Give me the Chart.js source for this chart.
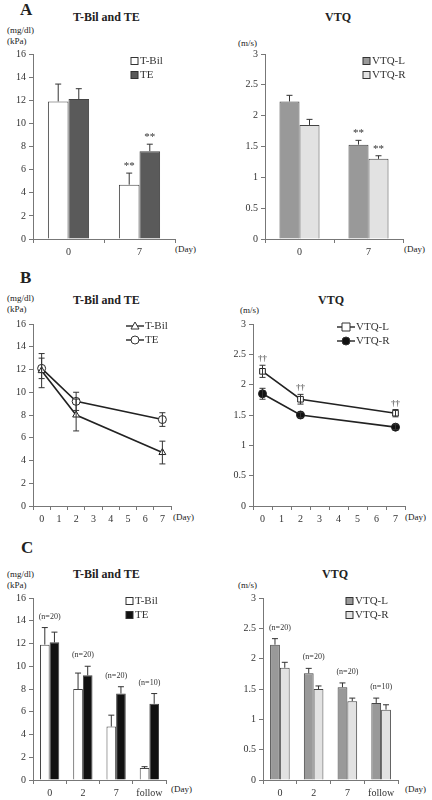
<!DOCTYPE html>
<html>
<head>
<meta charset="utf-8">
<script src="https://cdn.jsdelivr.net/npm/chart.js@4/dist/chart.umd.min.js"></script>
<style>
body { margin:0; background:#fff; width:432px; height:800px; position:relative; overflow:hidden; font-family:"Liberation Serif", serif; color:#222; }
canvas { position:absolute; }
.t { position:absolute; font-size:12px; white-space:nowrap; }
.b { font-weight:bold; }
.L { font-weight:bold; font-size:17px; }
.u { font-size:9px; line-height:11px; }
</style>
</head>
<body>
<div class="t L" style="left:20px;top:0px">A</div>
<div class="t L" style="left:20px;top:268px">B</div>
<div class="t L" style="left:21px;top:538px">C</div>

<div class="t b" style="left:73px;top:10px">T-Bil and TE</div>
<div class="t b" style="left:325px;top:10px">VTQ</div>
<div class="t b" style="left:73px;top:293px">T-Bil and TE</div>
<div class="t b" style="left:318px;top:293px">VTQ</div>
<div class="t b" style="left:73px;top:567px">T-Bil and TE</div>
<div class="t b" style="left:322px;top:567px">VTQ</div>

<div class="t u" style="left:7px;top:25px">(mg/dl)<br>(kPa)</div>
<div class="t u" style="left:238px;top:38px">(m/s)</div>
<div class="t u" style="left:7px;top:293px">(mg/dl)<br>(kPa)</div>
<div class="t u" style="left:240px;top:305px">(m/s)</div>
<div class="t u" style="left:7px;top:569px">(mg/dl)<br>(kPa)</div>
<div class="t u" style="left:238px;top:580px">(m/s)</div>

<div class="t u" style="left:175px;top:244px">(Day)</div>
<div class="t u" style="left:404px;top:244px">(Day)</div>
<div class="t u" style="left:173px;top:512px">(Day)</div>
<div class="t u" style="left:405px;top:512px">(Day)</div>
<div class="t u" style="left:171px;top:784px">(Day)</div>
<div class="t u" style="left:405px;top:784px">(Day)</div>

<canvas id="aL"></canvas><canvas id="aR"></canvas>
<canvas id="bL"></canvas><canvas id="bR"></canvas>
<canvas id="cL"></canvas><canvas id="cR"></canvas>
<script>
// ---- data ----
const daysA = ['0', '7'];
const tbilA = [11.9, 4.7], tbilAErr = [1.5, 1.0];
const teA = [12.1, 7.6], teAErr = [0.9, 0.6];
const starsA = ['', '**'];
const vtqLA = [2.23, 1.53], vtqLAErr = [0.10, 0.07];
const vtqRA = [1.85, 1.30], vtqRAErr = [0.09, 0.05];

const daysB = ['0', '1', '2', '3', '4', '5', '6', '7'];
const ptsB = ['0', '2', '7'];
const tbilB = [11.9, 8.0, 4.7], tbilBErr = [1.5, 1.4, 1.0];
const teB = [12.1, 9.2, 7.6], teBErr = [0.9, 0.8, 0.6];
const vtqLB = [2.22, 1.76, 1.53], vtqLBErr = [0.10, 0.08, 0.06];
const vtqRB = [1.85, 1.50, 1.30], vtqRBErr = [0.09, 0.04, 0.04];
const daggersB = ['††', '††', '††'];

const daysC = ['0', '2', '7', 'follow'];
const nC = ['(n=20)', '(n=20)', '(n=20)', '(n=10)'];
const tbilC = [11.9, 8.0, 4.7, 1.05], tbilCErr = [1.5, 1.4, 1.0, 0.12];
const teC = [12.1, 9.2, 7.6, 6.7], teCErr = [0.9, 0.8, 0.6, 0.9];
const vtqLC = [2.23, 1.76, 1.53, 1.27], vtqLCErr = [0.10, 0.08, 0.07, 0.08];
const vtqRC = [1.85, 1.50, 1.30, 1.16], vtqRCErr = [0.09, 0.05, 0.05, 0.08];

const FONT = '"Liberation Serif", serif';
const INK = '#333';

// error bars, marks above bars, group labels, legend
const extras = {
    id: 'extras',
    afterDatasetsDraw(chart, args, opts) {
        const ctx = chart.ctx, y = chart.scales.y;
        ctx.save();
        ctx.strokeStyle = INK; ctx.fillStyle = INK; ctx.lineWidth = 1;
        ctx.font = '10px ' + FONT; ctx.textAlign = 'center';
        const tops = [];
        chart.data.datasets.forEach((ds, di) => {
            const meta = chart.getDatasetMeta(di);
            meta.data.forEach((el, i) => {
                const v = chart.data.datasets[di].data[i];
                const val = typeof v === 'object' ? v.y : v;
                const e = ds.err[i];
                const yt = y.getPixelForValue(val + e), yb = ds.both ? y.getPixelForValue(val - e) : el.y;
                ctx.beginPath();
                ctx.moveTo(el.x, yt); ctx.lineTo(el.x, yb);
                ctx.moveTo(el.x - 3, yt); ctx.lineTo(el.x + 3, yt);
                if (ds.both) { ctx.moveTo(el.x - 3, yb); ctx.lineTo(el.x + 3, yb); }
                ctx.stroke();
                if (ds.marks && ds.marks[i]) {
                    ctx.font = (ds.marks[i] === '**' ? '11px ' : '9px ') + FONT;
                    ctx.fillText(ds.marks[i], el.x, yt - 4);
                }
                tops[i] = Math.min(tops[i] ?? 1e9, yt);
                tops['x' + i] = (tops['x' + i] || 0) + el.x / chart.data.datasets.length;
            });
        });
        if (opts.groups) {
            ctx.font = '8px ' + FONT;
            opts.groups.forEach((g, i) => ctx.fillText(g, tops['x' + i], tops[i] - 9));
        }
        if (opts.legend) {
            const lg = opts.legend;
            ctx.font = '11px ' + FONT; ctx.textAlign = 'left'; ctx.textBaseline = 'middle';
            chart.data.datasets.forEach((ds, di) => {
                const ly = lg.y + di * 14;
                if (lg.line) {
                    ctx.beginPath(); ctx.lineWidth = 1.5;
                    ctx.moveTo(lg.x, ly); ctx.lineTo(lg.x + 18, ly); ctx.stroke();
                    ctx.lineWidth = 1;
                    ctx.fillStyle = ds.pointBackgroundColor;
                    ctx.beginPath();
                    const cx = lg.x + 9;
                    if (ds.pointStyle === 'triangle') { ctx.moveTo(cx, ly - 4); ctx.lineTo(cx + 4, ly + 3); ctx.lineTo(cx - 4, ly + 3); ctx.closePath(); }
                    else if (ds.pointStyle === 'rect') ctx.rect(cx - 4, ly - 4, 8, 8);
                    else ctx.arc(cx, ly, 4, 0, Math.PI * 2);
                    ctx.fill(); ctx.stroke();
                    ctx.fillStyle = INK;
                    ctx.fillText(ds.label, lg.x + 19, ly);
                } else {
                    ctx.fillStyle = ds.backgroundColor;
                    ctx.fillRect(lg.x, ly - 3.5, 7, 7);
                    ctx.strokeRect(lg.x, ly - 3.5, 7, 7);
                    ctx.fillStyle = INK;
                    ctx.fillText(ds.label, lg.x + 9, ly);
                }
            });
        }
        ctx.restore();
    }
};

// page-coordinate panel: canvas box + wanted chart area
function mk(id, box, area, type, labels, datasets, yMax, yStep, opts) {
    const cv = document.getElementById(id);
    cv.width = box.w; cv.height = box.h;
    cv.style.left = box.x + 'px'; cv.style.top = box.y + 'px';
    const YW = 28, XH = 20;
    const leg = opts.legend ? Object.assign({}, opts.legend, { x: opts.legend.x - box.x, y: opts.legend.y - box.y }) : null;
    new Chart(cv, {
        type: type,
        data: { labels: labels, datasets: datasets },
        options: {
            responsive: false, animation: false,
            layout: { padding: { left: area.l - box.x - YW, top: area.t - box.y, right: box.x + box.w - area.r, bottom: box.y + box.h - area.b - XH } },
            plugins: { legend: { display: false }, tooltip: { enabled: false }, extras: { legend: leg, groups: opts.groups } },
            scales: {
                x: {
                    offset: true,
                    afterFit: s => { s.height = XH; },
                    grid: { offset: true, drawOnChartArea: false, tickLength: 4, color: '#777' },
                    border: { color: '#777' },
                    ticks: { color: INK, font: { family: FONT, size: 10 }, maxRotation: 0, autoSkip: false }
                },
                y: {
                    min: 0, max: yMax,
                    afterFit: s => { s.width = YW; },
                    grid: { drawOnChartArea: false, tickLength: 4, color: '#777' },
                    border: { color: '#777' },
                    ticks: { stepSize: yStep, color: INK, font: { family: FONT, size: 10 }, padding: 3,
                             callback: v => String(v) }
                }
            }
        },
        plugins: [extras]
    });
}

function bar(label, data, err, color, marks) {
    return { label, data, err, marks, backgroundColor: color, borderColor: '#444', borderWidth: 1,
             categoryPercentage: 0.58, barPercentage: 1.0 };
}
function line(label, data, err, style, fill, marks) {
    return { label, data: ptsB.map((d, i) => ({ x: d, y: data[i] })), err, marks, both: true,
             borderColor: '#222', borderWidth: 1.6, pointStyle: style, pointRadius: 4,
             pointBackgroundColor: fill, pointBorderColor: '#222', pointBorderWidth: 1 };
}

// A
mk('aL', { x: 0, y: 0, w: 216, h: 265 }, { l: 33, t: 54, r: 175, b: 239 }, 'bar', daysA,
   [bar('T-Bil', tbilA, tbilAErr, '#ffffff', starsA), bar('TE', teA, teAErr, '#5a5a5a', starsA)], 16, 2,
   { legend: { x: 131, y: 61 } });
mk('aR', { x: 216, y: 0, w: 216, h: 265 }, { l: 265, t: 54, r: 403, b: 239 }, 'bar', daysA,
   [bar('VTQ-L', vtqLA, vtqLAErr, '#999999', starsA), bar('VTQ-R', vtqRA, vtqRAErr, '#e2e2e2', starsA)], 3, 0.5,
   { legend: { x: 363, y: 61 } });
// B
mk('bL', { x: 0, y: 265, w: 216, h: 265 }, { l: 33, t: 324, r: 171, b: 506 }, 'line', daysB,
   [line('T-Bil', tbilB, tbilBErr, 'triangle', '#fff'), line('TE', teB, teBErr, 'circle', '#fff')], 16, 2,
   { legend: { x: 126, y: 326, line: true } });
mk('bR', { x: 216, y: 265, w: 216, h: 265 }, { l: 253, t: 324, r: 405, b: 506 }, 'line', daysB,
   [line('VTQ-L', vtqLB, vtqLBErr, 'rect', '#fff', daggersB), line('VTQ-R', vtqRB, vtqRBErr, 'circle', '#111')], 3, 0.5,
   { legend: { x: 337, y: 327, line: true } });
// C
mk('cL', { x: 0, y: 530, w: 216, h: 270 }, { l: 33, t: 598, r: 166, b: 780 }, 'bar', daysC,
   [bar('T-Bil', tbilC, tbilCErr, '#ffffff'), bar('TE', teC, teCErr, '#111111')], 16, 2,
   { legend: { x: 126, y: 601 }, groups: nC });
mk('cR', { x: 216, y: 530, w: 216, h: 270 }, { l: 263, t: 598, r: 398, b: 780 }, 'bar', daysC,
   [bar('VTQ-L', vtqLC, vtqLCErr, '#999999'), bar('VTQ-R', vtqRC, vtqRCErr, '#e2e2e2')], 3, 0.5,
   { legend: { x: 346, y: 601 }, groups: nC });
</script>
</body>
</html>
